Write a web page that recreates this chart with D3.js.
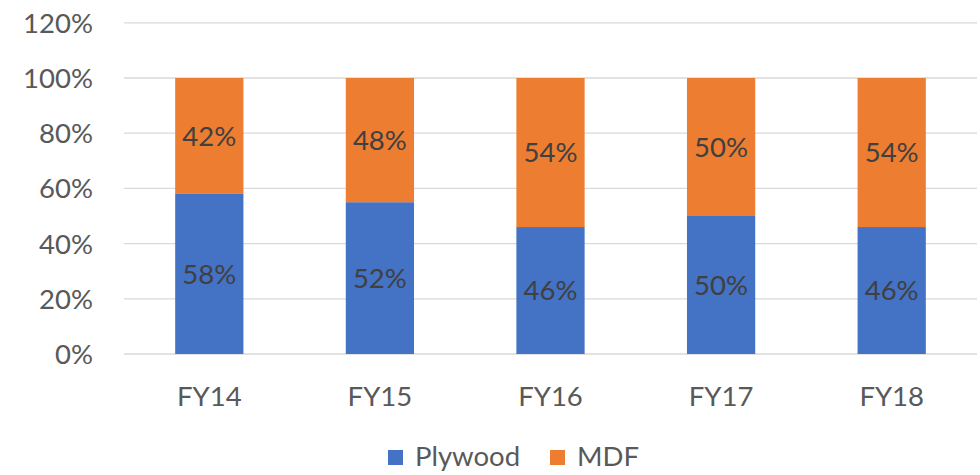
<!DOCTYPE html>
<html><head><meta charset="utf-8">
<script src="https://cdn.jsdelivr.net/npm/d3@7"></script>
<style>body{margin:0;background:#fff}svg text{font-family:Lato,"Open Sans",sans-serif}</style>
</head><body><svg id="c" width="980" height="475"></svg>
<script>
const categories = ["FY14","FY15","FY16","FY17","FY18"];
const plywood = [58,55,46,50,46];
const mdf = [42,45,54,50,54];
const plywoodLabels = ["58%","52%","46%","50%","46%"];
const mdfLabels = ["42%","48%","54%","50%","54%"];
const yTicks = [0,20,40,60,80,100,120];
const seriesNames = ["Plywood","MDF"];
const colors = ["#4472C4","#ED7D31"];

const svg = d3.select("#c");
const x = d3.scaleBand().domain(categories).range([124,977]).paddingInner(0.6).paddingOuter(0.3);
const y = d3.scaleLinear().domain([0,120]).range([354,22.8]);

svg.append("g").selectAll("line").data(yTicks).join("line")
  .attr("x1",124).attr("x2",977).attr("y1",d=>y(d)).attr("y2",d=>y(d))
  .attr("stroke","#D9D9D9").attr("stroke-width",1.3);

svg.append("g").selectAll("text").data(yTicks).join("text")
  .attr("x",93).attr("y",d=>y(d)).attr("dy","0.36em").attr("text-anchor","end")
  .attr("font-size",27.5).attr("fill","#595959").text(d=>d+"%");

const rows = categories.map((c,i)=>({cat:c,Plywood:plywood[i],MDF:mdf[i],i}));
const stack = d3.stack().keys(seriesNames)(rows);
const labels = [plywoodLabels, mdfLabels];

stack.forEach((s,si)=>{
  const g = svg.append("g");
  g.selectAll("rect").data(s).join("rect")
    .attr("x",d=>x(d.data.cat)).attr("width",x.bandwidth())
    .attr("y",d=>y(d[1])).attr("height",d=>y(d[0])-y(d[1]))
    .attr("fill",colors[si]);
  g.selectAll("text").data(s).join("text")
    .attr("x",d=>x(d.data.cat)+x.bandwidth()/2).attr("y",d=>(y(d[0])+y(d[1]))/2)
    .attr("dy","0.36em").attr("text-anchor","middle").attr("font-size",27.5).attr("fill","#404040")
    .text(d=>labels[si][d.data.i]);
});

svg.append("g").selectAll("text").data(categories).join("text")
  .attr("x",d=>x(d)+x.bandwidth()/2).attr("y",406).attr("text-anchor","middle")
  .attr("font-size",27.5).attr("fill","#595959").text(d=>d);

const leg = svg.append("g");
const legX = [388,550];
seriesNames.forEach((n,i)=>{
  leg.append("rect").attr("x",legX[i]).attr("y",450).attr("width",15).attr("height",15).attr("fill",colors[i]);
  leg.append("text").attr("x",legX[i]+27).attr("y",466).attr("font-size",27.5).attr("fill","#595959").text(n);
});
</script></body></html>
